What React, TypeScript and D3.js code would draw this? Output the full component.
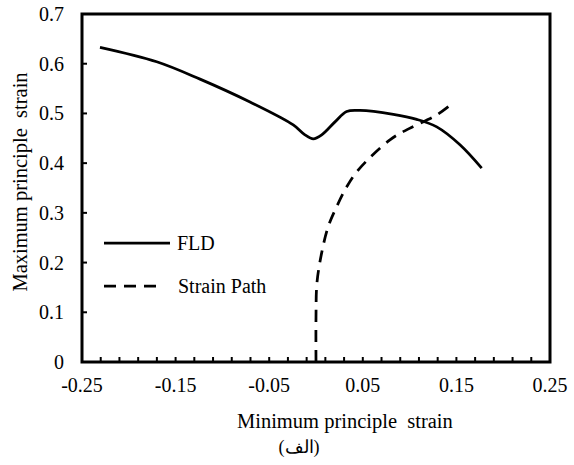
import React from "react";
import * as d3 from "d3";

const fldX = [-0.2308, -0.1702, -0.1239, -0.0705, -0.0243, -0.0118, -0.0029, 0.0061, 0.0203, 0.0328, 0.047, 0.0826, 0.1076, 0.129, 0.1538, 0.177];
const fldY = [0.633, 0.604, 0.569, 0.523, 0.477, 0.457, 0.449, 0.457, 0.483, 0.504, 0.506, 0.498, 0.488, 0.473, 0.437, 0.39];

const pathX = [0, 0, 0.001, 0.006, 0.013, 0.022, 0.033, 0.045, 0.079, 0.1, 0.129, 0.147];
const pathY = [0, 0.09, 0.159, 0.219, 0.272, 0.312, 0.353, 0.386, 0.447, 0.47, 0.497, 0.522];

const xTickLabels = [-0.25, -0.15, -0.05, 0.05, 0.15, 0.25];
const yTickLabels = [0, 0.1, 0.2, 0.3, 0.4, 0.5, 0.6, 0.7];
const seriesNames = ["FLD", "Strain Path"];
const xTitle = "Minimum principle  strain";
const yTitle = "Maximum principle  strain";
const caption = "(الف)";

const W = 574, H = 465;
const L = 82, R = 550, T = 14, B = 362;
const FONT = "'Times New Roman', 'Liberation Serif', serif";

const fmt = (v: number, p: number) => (v === 0 ? "0" : v.toFixed(p));

export default function App() {
  const x = d3.scaleLinear().domain([-0.25, 0.25]).range([L, R]);
  const y = d3.scaleLinear().domain([0, 0.7]).range([B, T]);

  const line = d3
    .line<[number, number]>()
    .x((d) => x(d[0]))
    .y((d) => y(d[1]))
    .curve(d3.curveCatmullRom.alpha(0.5));

  const fld = fldX.map((v, i) => [v, fldY[i]] as [number, number]);
  const sp = pathX.map((v, i) => [v, pathY[i]] as [number, number]);

  const minorX = d3.range(0, 26).map((i) => -0.25 + i * 0.02).filter((v) => v > -0.249 && v < 0.249);

  return (
    <svg width={W} height={H} style={{ position: "absolute", left: 0, top: 0 }}>
      <rect x={0} y={0} width={W} height={H} fill="#fff" />
      <rect x={L} y={T} width={R - L} height={B - T} fill="none" stroke="#000" strokeWidth={3} />
      {minorX.map((v, i) => (
        <line key={"xt" + i} x1={x(v)} x2={x(v)} y1={B} y2={B - 5} stroke="#000" strokeWidth={2} />
      ))}
      {yTickLabels.map((v, i) => (
        <line key={"yt" + i} x1={L} x2={L + 5} y1={y(v)} y2={y(v)} stroke="#000" strokeWidth={2} />
      ))}
      {yTickLabels.map((v, i) => (
        <text key={"yl" + i} x={64} y={y(v) + 7} textAnchor="end" fontFamily={FONT} fontSize={20} fill="#000">
          {fmt(v, 1)}
        </text>
      ))}
      {xTickLabels.map((v, i) => (
        <text key={"xl" + i} x={x(v)} y={392} textAnchor="middle" fontFamily={FONT} fontSize={20} fill="#000">
          {fmt(v, 2)}
        </text>
      ))}
      <path d={line(fld) || ""} fill="none" stroke="#000" strokeWidth={2.75} strokeLinejoin="round" />
      <path d={line(sp) || ""} fill="none" stroke="#000" strokeWidth={2.75} strokeDasharray="12 8" />
      <line x1={104} x2={170} y1={243} y2={243} stroke="#000" strokeWidth={2.75} />
      <text x={177} y={250} fontFamily={FONT} fontSize={20} fill="#000">{seriesNames[0]}</text>
      <line x1={104} x2={160} y1={286} y2={286} stroke="#000" strokeWidth={2.75} strokeDasharray="12 8" />
      <text x={178} y={293} fontFamily={FONT} fontSize={20} fill="#000">{seriesNames[1]}</text>
      <text x={237} y={428} fontFamily={FONT} fontSize={20.5} fill="#000" style={{ whiteSpace: "pre" }}>{xTitle}</text>
      <text transform="translate(27,182) rotate(-90)" textAnchor="middle" fontFamily={FONT} fontSize={20.5} fill="#000" style={{ whiteSpace: "pre" }}>{yTitle}</text>
      <text x={299} y={453} textAnchor="middle" fontFamily={FONT} fontSize={18} fill="#000">{caption}</text>
    </svg>
  );
}
